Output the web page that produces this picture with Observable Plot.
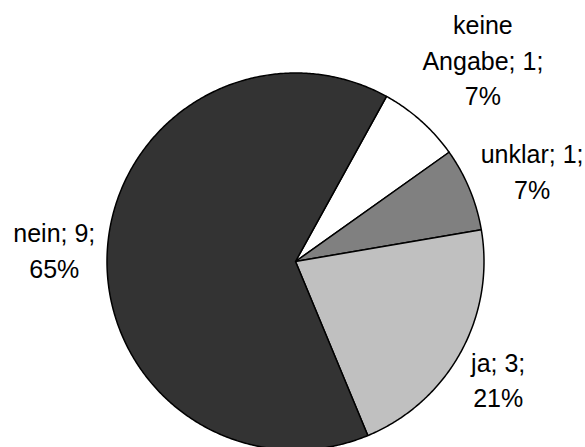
<!DOCTYPE html>
<html><head><meta charset="utf-8">
<script src="https://cdn.jsdelivr.net/npm/d3@7"></script>
<script src="https://cdn.jsdelivr.net/npm/@observablehq/plot@0.6"></script>
<style>html,body{margin:0;padding:0;background:#fff;} #chart{width:585px;height:447px;}</style>
</head><body><div id="chart"></div>
<script>
const categories = ["keine Angabe", "unklar", "ja", "nein"];
const labelNames = ["keine\nAngabe", "unklar", "ja", "nein"];
const values = [1, 1, 3, 9];
const percents = ["7%", "7%", "21%", "65%"];
const colors = ["#ffffff", "#808080", "#c0c0c0", "#333333"];

const W = 585, H = 447, cx = 295, cy = 261, R = 188.5;
const startDeg = 28.87;
const fontSize = 25, lineH = 1.42;

const rows = categories.map((c, i) => ({category: c, value: values[i], label: `${labelNames[i]}; ${values[i]};\n${percents[i]}`}));
const pie = d3.pie().sort(null).value(d => d.value)
  .startAngle(startDeg * Math.PI / 180).endAngle(startDeg * Math.PI / 180 + 2 * Math.PI);
const arcs = pie(rows);

const pts = [];
arcs.forEach(a => {
  pts.push({category: a.data.category, x: 0, y: 0});
  const n = Math.max(2, Math.ceil((a.endAngle - a.startAngle) / (Math.PI / 360)));
  for (let k = 0; k <= n; k++) {
    const t = a.startAngle + (a.endAngle - a.startAngle) * k / n;
    pts.push({category: a.data.category, x: Math.sin(t), y: Math.cos(t)});
  }
});

const ctx = document.createElement("canvas").getContext("2d");
ctx.font = `${fontSize}px "Liberation Sans"`;
const labels = arcs.map(a => {
  const lines = a.data.label.split("\n");
  const w = Math.max(...lines.map(l => ctx.measureText(l).width));
  const h = lines.length * fontSize * lineH;
  const m = (a.startAngle + a.endAngle) / 2;
  const c = Math.sin(m), s = Math.cos(m);
  const k = Math.max(Math.abs(c), Math.abs(s));
  const pad = 12;
  const px = (R + pad) * c + (w / 2) * c / k;
  const py = (R + pad) * s + (h / 2) * s / k;
  return {label: a.data.label, x: px / R, y: py / R};
});

const yMin = -(H - cy) / R;
const plot = Plot.plot({
  width: W, height: H,
  marginLeft: cx - R, marginRight: W - cx - R, marginTop: cy - R, marginBottom: 0,
  x: {domain: [-1, 1], axis: null},
  y: {domain: [yMin, 1], axis: null},
  color: {domain: categories, range: colors},
  style: {fontFamily: "'Liberation Sans', Arial, sans-serif", background: "white"},
  marks: [
    Plot.line(pts, {x: "x", y: "y", z: "category", fill: "category", stroke: "black", strokeWidth: 1.5, curve: "linear-closed", strokeLinejoin: "round"}),
    Plot.text(labels, {x: "x", y: "y", text: "label", fontSize: fontSize, lineHeight: lineH, textAnchor: "middle", lineAnchor: "middle", fill: "black"})
  ]
});
document.getElementById("chart").appendChild(plot);
</script>
</body></html>
